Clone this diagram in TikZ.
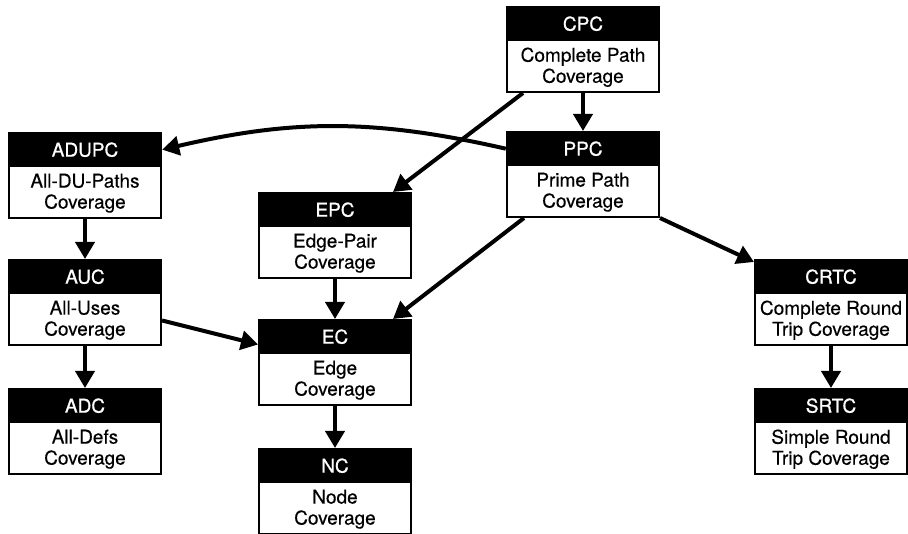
\documentclass[tikz,border=0pt]{standalone}
\usepackage{fontspec}
\setmainfont{TeX Gyre Heros}
\newfontfamily\medfont[FakeBold=0.35]{TeX Gyre Heros}
\newfontfamily\hdrfont[FakeBold=0.9]{TeX Gyre Heros}
\usetikzlibrary{arrows.meta,calc}
\tikzset{
 boxframe/.style={draw=black, fill=white, line width=2pt, minimum width=152pt, minimum height=85pt, inner sep=0pt},
 hdr/.style={fill=black, text=white, minimum width=154pt, minimum height=35pt, inner sep=0pt, font=\hdrfont\fontsize{19}{21}\selectfont},
 bodytext/.style={align=center, font=\medfont\fontsize{19}{21}\selectfont, inner sep=0pt},
 conn/.style={line width=4pt, -{Triangle[length=17pt,width=19pt]}},
}
\newcommand{\covbox}[5]{%
 \node[boxframe] (#1) at (#2,#3+43.5) {};
 \node[hdr, anchor=north] (#1h) at (#1.north) {#4};
 \node[bodytext] (#1b) at ($(#1.south)!0.5!(#1h.south)$) {#5};
}
\begin{document}
\begin{tikzpicture}[x=1pt,y=-1pt]
\useasboundingbox (0,0) rectangle (908,534);
\covbox{cpc}{583}{6}{CPC}{Complete Path\\Coverage}
\covbox{ppc}{583}{131}{PPC}{Prime Path\\Coverage}
\covbox{adupc}{85}{132}{ADUPC}{All-DU-Paths\\Coverage}
\covbox{epc}{335}{192}{EPC}{Edge-Pair\\Coverage}
\covbox{ec}{335}{319}{EC}{Edge\\Coverage}
\covbox{nc}{335}{448}{NC}{Node\\Coverage}
\covbox{auc}{85}{259}{AUC}{All-Uses\\Coverage}
\covbox{adc}{85}{388}{ADC}{All-Defs\\Coverage}
\covbox{crtc}{831}{259}{CRTC}{Complete Round\\Trip Coverage}
\covbox{srtc}{831}{388}{SRTC}{Simple Round\\Trip Coverage}

\draw[conn] (cpc.south) -- (ppc.north);
\draw[conn] ([xshift=17pt]cpc.south west) -- ([xshift=-19pt]epc.north east);
\draw[conn] (ppch.west) to[bend right=13] (adupch.east);
\draw[conn] ([xshift=18pt]ppc.south west) -- ([xshift=-19pt]ec.north east);
\draw[conn] (ppc.south east) -- ([yshift=-3pt]crtc.north west);
\draw[conn] (adupc.south) -- (auc.north);
\draw[conn] ([yshift=-18pt]auc.east) -- ([yshift=18pt]ec.west);
\draw[conn] (auc.south) -- (adc.north);
\draw[conn] (epc.south) -- (ec.north);
\draw[conn] (ec.south) -- (nc.north);
\draw[conn] (crtc.south) -- (srtc.north);
\end{tikzpicture}
\end{document}
